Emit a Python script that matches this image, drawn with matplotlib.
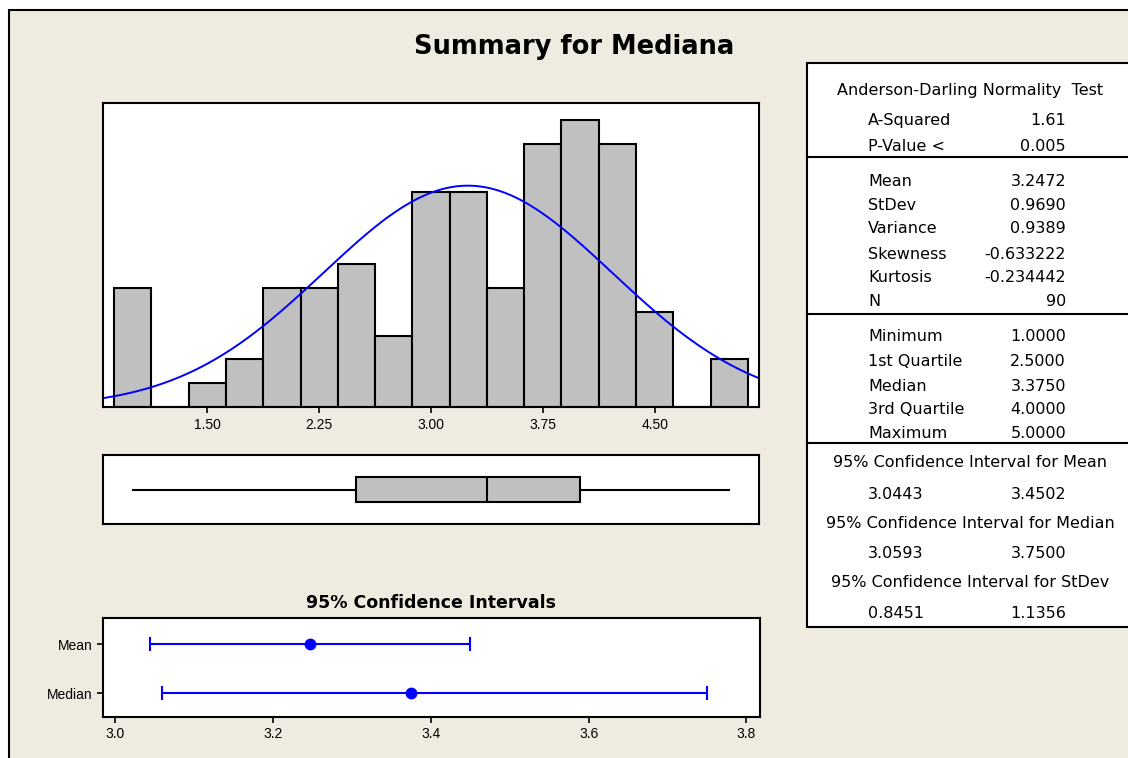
import numpy as np
import matplotlib
matplotlib.use("Agg")
import matplotlib.pyplot as plt
from matplotlib.patches import Rectangle
from matplotlib.lines import Line2D

plt.rcParams['font.family'] = ['Liberation Sans', 'DejaVu Sans']

# histogram: bin midpoints (width 0.25) and counts
bin_mids = [1.00, 1.25, 1.50, 1.75, 2.00, 2.25, 2.50, 2.75, 3.00,
            3.25, 3.50, 3.75, 4.00, 4.25, 4.50, 4.75, 5.00]
counts = [5, 0, 1, 2, 5, 5, 6, 3, 9, 9, 5, 11, 12, 11, 4, 0, 2]
bin_width = 0.25
hist_ticks = [1.50, 2.25, 3.00, 3.75, 4.50]

n_obs = 90
mean = 3.2472
stdev = 0.9690
five_num = [1.0, 2.5, 3.375, 4.0, 5.0]  # min, q1, median, q3, max

ci_labels = ["Mean", "Median"]
ci_centers = [3.2472, 3.375]
ci_low = [3.0443, 3.0593]
ci_high = [3.4502, 3.7500]
ci_ticks = [3.0, 3.2, 3.4, 3.6, 3.8]

ad_rows = [("A-Squared", "1.61"), ("P-Value <", "0.005")]
moment_rows = [("Mean", "3.2472"), ("StDev", "0.9690"), ("Variance", "0.9389"),
               ("Skewness", "-0.633222"), ("Kurtosis", "-0.234442"), ("N", "90")]
quantile_rows = [("Minimum", "1.0000"), ("1st Quartile", "2.5000"), ("Median", "3.3750"),
                 ("3rd Quartile", "4.0000"), ("Maximum", "5.0000")]
ci_rows = [("95% Confidence Interval for Mean", "3.0443", "3.4502"),
           ("95% Confidence Interval for Median", "3.0593", "3.7500"),
           ("95% Confidence Interval for StDev", "0.8451", "1.1356")]

BEIGE = '#EFEBE1'
GRAY = '#C0C0C0'
BLUE = '#0000FF'
W, H = 1128, 758


def fx(x):
    return x / W


def fy(y):
    return 1 - y / H


fig = plt.figure(figsize=(W / 100, H / 100), dpi=100, facecolor='white')
fig.add_artist(Rectangle((fx(9), fy(900)), 1.2, fy(10) - fy(900), transform=fig.transFigure,
                         facecolor=BEIGE, edgecolor='black', lw=1.5, zorder=-10))

fig.text(fx(574), fy(54), "Summary for Mediana", fontsize=18.5, fontweight='bold',
         family='DejaVu Sans', ha='center', va='baseline')

# histogram with normal curve
ax_h = fig.add_axes([fx(103), fy(407.3), fx(759) - fx(103), fy(102.7) - fy(407.3)])
ax_h.bar(bin_mids, counts, width=bin_width, color=GRAY, edgecolor='black', linewidth=1.5)
xs = np.linspace(0.80, 5.20, 400)
ys = n_obs * bin_width * np.exp(-0.5 * ((xs - mean) / stdev) ** 2) / (stdev * np.sqrt(2 * np.pi))
ax_h.plot(xs, ys, color=BLUE, lw=1.4)
ax_h.set_xlim(0.80, 5.20)
ax_h.set_ylim(0, 12.73)
ax_h.set_xticks(hist_ticks)
ax_h.set_xticklabels([f"{t:.2f}" for t in hist_ticks])
ax_h.set_yticks([])

# boxplot
ax_b = fig.add_axes([fx(103), fy(524), fx(759) - fx(103), fy(455) - fy(524)])
box_stats = [{'whislo': five_num[0], 'q1': five_num[1], 'med': five_num[2],
              'q3': five_num[3], 'whishi': five_num[4], 'fliers': []}]
ax_b.bxp(box_stats, positions=[0.5], widths=0.35, orientation='horizontal',
         showcaps=False, patch_artist=True,
         boxprops=dict(facecolor=GRAY, edgecolor='black', linewidth=1.5),
         medianprops=dict(color='black', linewidth=1.5),
         whiskerprops=dict(color='black', linewidth=1.5))
ax_b.set_xlim(0.80, 5.20)
ax_b.set_ylim(0, 1)
ax_b.set_xticks([])
ax_b.set_yticks([])

# confidence intervals
ax_c = fig.add_axes([fx(102.8), fy(716.7), fx(759.7) - fx(102.8), fy(618) - fy(716.7)])
ypos = [2, 1]
ax_c.errorbar(ci_centers, ypos,
              xerr=[np.subtract(ci_centers, ci_low), np.subtract(ci_high, ci_centers)],
              fmt='o', color=BLUE, ms=7.5, elinewidth=1.5, capsize=5, capthick=1.5)
ax_c.set_xlim(2.984, 3.817)
ax_c.set_ylim(0.52, 2.53)
ax_c.set_xticks(ci_ticks)
ax_c.set_xticklabels([f"{t:.1f}" for t in ci_ticks])
ax_c.set_yticks(ypos)
ax_c.set_yticklabels(ci_labels)
fig.text(fx(431.2), fy(608), "95% Confidence Intervals", fontsize=12.5, fontweight='bold',
         family='DejaVu Sans', ha='center', va='baseline')

for ax in (ax_h, ax_b, ax_c):
    ax.set_facecolor('white')
    for sp in ax.spines.values():
        sp.set_linewidth(1.5)
        sp.set_color('black')
    ax.tick_params(length=4.5, width=1.2, pad=3, labelsize=10, colors='black')

# statistics table
fig.add_artist(Rectangle((fx(807), fy(627)), 1.0, fy(63) - fy(627), transform=fig.transFigure,
                         facecolor='white', edgecolor='black', lw=1.5, zorder=1))
for yl in (157, 314, 443):
    fig.add_artist(Line2D([fx(807), 1.1], [fy(yl), fy(yl)], transform=fig.transFigure,
                          color='black', lw=1.5, zorder=2))

tkw = dict(fontsize=11.5, family='DejaVu Sans', va='baseline', zorder=3)
off = 5.8
lab_x, val_x, mid_x = 868, 1066, 970


def row(y, label, value):
    fig.text(fx(lab_x), fy(y + off), label, ha='left', **tkw)
    fig.text(fx(val_x), fy(y + off), value, ha='right', **tkw)


fig.text(fx(mid_x), fy(89 + off), "Anderson-Darling Normality  Test", ha='center', **tkw)
for y, (lab, val) in zip([119, 145], ad_rows):
    row(y, lab, val)
for y, (lab, val) in zip([180, 204.5, 227, 253, 276, 300], moment_rows):
    row(y, lab, val)
for y, (lab, val) in zip([335.5, 360, 385, 408, 432], quantile_rows):
    row(y, lab, val)
for (yh, yv), (hdr, lo, hi) in zip([(461.6, 493), (522, 552), (581, 612.5)], ci_rows):
    fig.text(fx(mid_x), fy(yh + off), hdr, ha='center', **tkw)
    fig.text(fx(lab_x), fy(yv + off), lo, ha='left', **tkw)
    fig.text(fx(val_x), fy(yv + off), hi, ha='right', **tkw)

fig.savefig("out.png", dpi=100, facecolor=fig.get_facecolor())
